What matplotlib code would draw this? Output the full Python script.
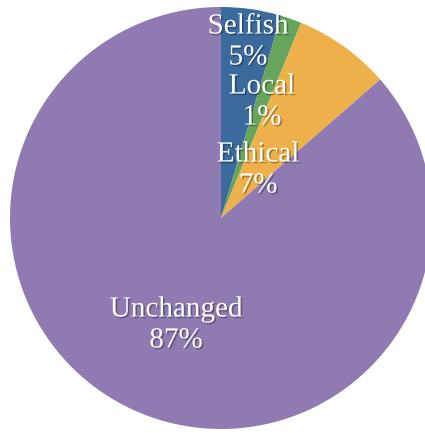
import matplotlib
matplotlib.use("Agg")
import matplotlib.pyplot as plt
import matplotlib.patheffects as pe

# shares (clockwise from 12 o'clock)
categories = ["Selfish", "Local", "Ethical", "Unchanged"]
shares = [4.6, 1.6, 7.4, 86.4]
pct_labels = ["5%", "1%", "7%", "87%"]
colors = ["#3b6b9c", "#66a55b", "#edb04b", "#8f7bb1"]

# label anchor points in pixels of the 425x433 image
label_px = [(248, 42), (262, 102), (258, 170), (176, 325)]

W, H = 425, 433
cx, cy, r = 221, 218, 211

fig = plt.figure(figsize=(W / 100, H / 100), dpi=100)
ax = fig.add_axes([(cx - r) / W, (H - cy - r) / H, 2 * r / W, 2 * r / H])
ax.pie(shares, colors=colors, startangle=90, counterclock=False,
       radius=1, wedgeprops=dict(linewidth=0))
ax.set_xlim(-1, 1)
ax.set_ylim(-1, 1)
ax.set_aspect("equal")
ax.axis("off")

shadow = [pe.SimplePatchShadow(offset=(1.2, -1.2), shadow_rgbFace="black", alpha=0.3),
          pe.Normal()]
for name, pct, (px, py) in zip(categories, pct_labels, label_px):
    x = (px - cx) / r
    y = (cy - py) / r
    ax.text(x, y, f"{name}\n{pct}", ha="center", va="center", color="white",
            fontsize=21, family="Liberation Serif", linespacing=1.25,
            path_effects=shadow)

fig.savefig("out.png", dpi=100)
